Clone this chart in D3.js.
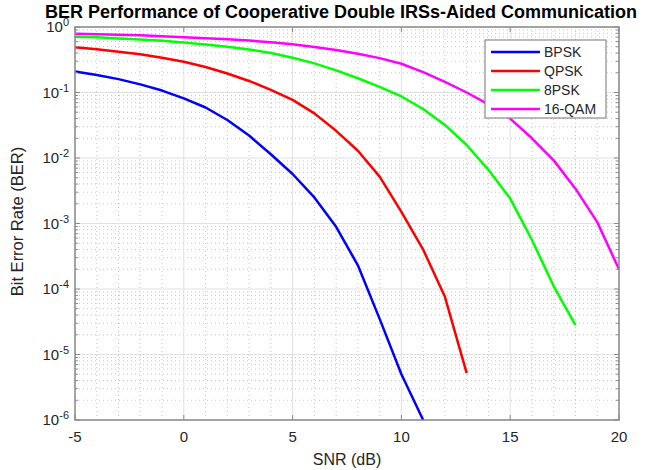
<!DOCTYPE html>
<html>
<head>
<meta charset="utf-8">
<script src="https://cdn.jsdelivr.net/npm/d3@7"></script>
<style>
  body { margin: 0; background: #fff; }
  svg { font-family: Arial, "Liberation Sans", sans-serif; }
</style>
</head>
<body>
<script>
// SNR values in dB
var snr = [-5,-4,-3,-2,-1,0,1,2,3,4,5,6,7,8,9,10,11,12,13,14,15,16,17,18,19,20];

// BER, one array per modulation
var berBPSK  = [0.21,0.185,0.16,0.133,0.107,0.0815,0.059,0.038,0.022,0.0114,0.0057,0.0025,0.00089,0.00023,0.000035,0.000005,0.000001];
var berQPSK  = [0.49,0.456,0.42,0.383,0.34,0.295,0.245,0.195,0.15,0.11,0.077,0.048,0.026,0.0129,0.0052,0.0015,0.0004,0.000076,0.0000052];
var ber8PSK  = [0.71,0.695,0.67,0.645,0.617,0.58,0.54,0.5,0.455,0.40,0.34,0.278,0.218,0.165,0.122,0.087,0.056,0.032,0.0158,0.0066,0.0024,0.00056,0.00011,0.000028];
var ber16QAM = [0.79,0.775,0.76,0.745,0.725,0.70,0.675,0.648,0.62,0.585,0.545,0.495,0.445,0.39,0.335,0.275,0.205,0.145,0.10,0.066,0.04,0.02,0.0092,0.0034,0.00105,0.0002];

var names  = ["BPSK","QPSK","8PSK","16-QAM"];
var colors = ["#0000ff","#ff0000","#00ff00","#ff00ff"];
var xTicks = [-5,0,5,10,15,20];
var yTicks = [0,-1,-2,-3,-4,-5,-6];   // exponents

var W = 649, H = 470;
var pl = 75, pr = 619, pt = 27, pb = 420;

var svg = d3.select("body").append("svg")
  .attr("width", W)
  .attr("height", H);

var x = d3.scaleLinear().domain([-5,20]).range([pl,pr]);
var y = d3.scaleLog().domain([1e-6,1]).range([pb,pt]);

// minor grid (dotted)
var minorY = [];
for (var e = -6; e < 0; e++) {
  for (var m = 2; m <= 9; m++) minorY.push(m * Math.pow(10, e));
}
var minorX = d3.range(-5, 21).filter(function(d) { return d % 5 != 0; });

var grid = svg.append("g");
grid.selectAll(".my").data(minorY).enter().append("line")
  .attr("x1", pl).attr("x2", pr)
  .attr("y1", function(d) { return y(d); }).attr("y2", function(d) { return y(d); })
  .attr("stroke", "#b8b8b8").attr("stroke-width", 0.8).attr("stroke-dasharray", "1,3");
grid.selectAll(".mx").data(minorX).enter().append("line")
  .attr("y1", pt).attr("y2", pb)
  .attr("x1", function(d) { return x(d); }).attr("x2", function(d) { return x(d); })
  .attr("stroke", "#b8b8b8").attr("stroke-width", 0.8).attr("stroke-dasharray", "1,3");

// major grid
grid.selectAll(".gy").data(yTicks).enter().append("line")
  .attr("x1", pl).attr("x2", pr)
  .attr("y1", function(d) { return y(Math.pow(10,d)); }).attr("y2", function(d) { return y(Math.pow(10,d)); })
  .attr("stroke", "#e0e0e0").attr("stroke-width", 1);
grid.selectAll(".gx").data(xTicks).enter().append("line")
  .attr("y1", pt).attr("y2", pb)
  .attr("x1", function(d) { return x(d); }).attr("x2", function(d) { return x(d); })
  .attr("stroke", "#e0e0e0").attr("stroke-width", 1);

// curves
var series = [berBPSK, berQPSK, ber8PSK, ber16QAM];
var line = d3.line()
  .x(function(d) { return x(d[0]); })
  .y(function(d) { return y(d[1]); });

series.forEach(function(s, i) {
  var pts = s.map(function(v, j) { return [snr[j], v]; });
  svg.append("path")
    .datum(pts)
    .attr("d", line)
    .attr("fill", "none")
    .attr("stroke", colors[i])
    .attr("stroke-width", 2.5)
    .attr("stroke-linejoin", "round");
});

// axes box + ticks (inside, MATLAB style)
var axc = "#8a8a8a";
svg.append("rect")
  .attr("x", pl).attr("y", pt)
  .attr("width", pr - pl).attr("height", pb - pt)
  .attr("fill", "none").attr("stroke", axc).attr("stroke-width", 1.5);

var ticks = svg.append("g").attr("stroke", axc).attr("stroke-width", 1);
xTicks.forEach(function(t) {
  ticks.append("line").attr("x1", x(t)).attr("x2", x(t)).attr("y1", pb).attr("y2", pb - 5);
  ticks.append("line").attr("x1", x(t)).attr("x2", x(t)).attr("y1", pt).attr("y2", pt + 5);
});
yTicks.forEach(function(t) {
  var yy = y(Math.pow(10, t));
  ticks.append("line").attr("x1", pl).attr("x2", pl + 5).attr("y1", yy).attr("y2", yy);
  ticks.append("line").attr("x1", pr).attr("x2", pr - 5).attr("y1", yy).attr("y2", yy);
});
minorY.forEach(function(v) {
  var yy = y(v);
  ticks.append("line").attr("x1", pl).attr("x2", pl + 3).attr("y1", yy).attr("y2", yy);
  ticks.append("line").attr("x1", pr).attr("x2", pr - 3).attr("y1", yy).attr("y2", yy);
});

// tick labels
var lab = "#262626";
svg.selectAll(".xl").data(xTicks).enter().append("text")
  .attr("x", function(d) { return x(d); })
  .attr("y", pb + 22)
  .attr("text-anchor", "middle")
  .attr("font-size", 15)
  .attr("fill", lab)
  .text(function(d) { return d; });

yTicks.forEach(function(t) {
  var tx = svg.append("text")
    .attr("x", pl - 6)
    .attr("y", y(Math.pow(10, t)) + 5)
    .attr("text-anchor", "end")
    .attr("font-size", 15)
    .attr("fill", lab);
  tx.append("tspan").text("10");
  tx.append("tspan").attr("dy", -6).attr("font-size", 11).text(t);
});

// axis labels
svg.append("text")
  .attr("x", (pl + pr) / 2)
  .attr("y", 465)
  .attr("text-anchor", "middle")
  .attr("font-size", 16)
  .attr("fill", lab)
  .text("SNR (dB)");

svg.append("text")
  .attr("transform", "translate(23," + ((pt + pb) / 2 - 2) + ") rotate(-90)")
  .attr("text-anchor", "middle")
  .attr("font-size", 16.5)
  .attr("fill", lab)
  .text("Bit Error Rate (BER)");

// title
svg.append("text")
  .attr("x", 341)
  .attr("y", 18)
  .attr("text-anchor", "middle")
  .attr("font-size", 18)
  .attr("font-weight", "bold")
  .attr("fill", "#000")
  .text("BER Performance of Cooperative Double IRSs-Aided Communication");

// legend
var lg = svg.append("g");
lg.append("rect")
  .attr("x", 485).attr("y", 40)
  .attr("width", 121).attr("height", 78)
  .attr("fill", "#fff").attr("stroke", "#8a8a8a").attr("stroke-width", 1.2);
names.forEach(function(n, i) {
  var yy = 52 + i * 19;
  lg.append("line")
    .attr("x1", 491).attr("x2", 540)
    .attr("y1", yy).attr("y2", yy)
    .attr("stroke", colors[i]).attr("stroke-width", 2.5);
  lg.append("text")
    .attr("x", 544).attr("y", yy + 5)
    .attr("font-size", 14)
    .attr("fill", lab)
    .text(n);
});
</script>
</body>
</html>
